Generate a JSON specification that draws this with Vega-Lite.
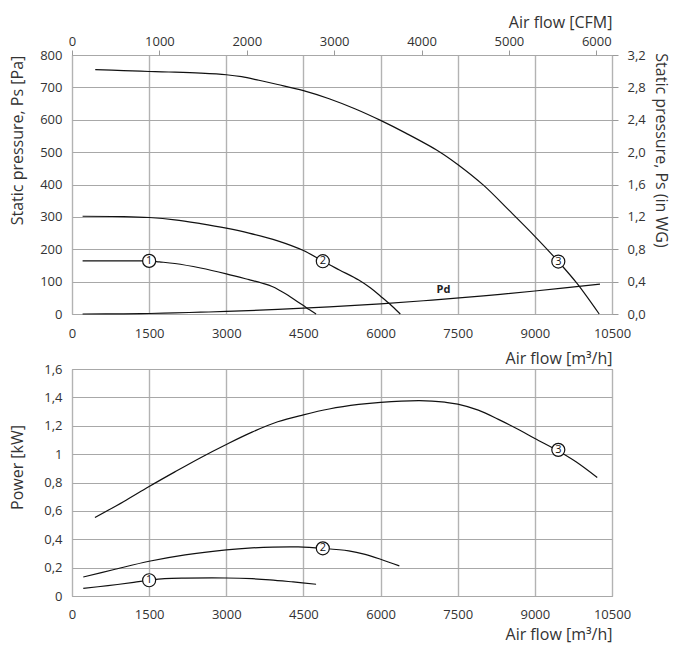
{
  "$schema": "https://vega.github.io/schema/vega-lite/v6.json",
  "background": "white",
  "padding": {"left": 8, "top": 13, "right": 0, "bottom": 0},
  "bounds": "flush",
  "spacing": 55,
  "config": {
    "font": "Open Sans",
    "view": {"stroke": "#9a9a9a", "strokeWidth": 1},
    "axis": {
      "labelFont": "Open Sans", "labelFontSize": 13, "labelColor": "#333333",
      "labelOverlap": false, "labelFlush": false,
      "titleFont": "Open Sans", "titleFontSize": 16, "titleFontWeight": "normal", "titleColor": "#333333",
      "gridColor": "#a8a8a8", "gridOpacity": 1, "gridWidth": 1,
      "domain": false, "tickColor": "#9a9a9a"
    }
  },
  "datasets": {
    "pressure": [
      {"curve": "1", "flow": 206, "pa": 164}, {"curve": "1", "flow": 800, "pa": 164}, {"curve": "1", "flow": 1300, "pa": 164}, {"curve": "1", "flow": 1500, "pa": 164}, {"curve": "1", "flow": 1700, "pa": 161}, {"curve": "1", "flow": 2000, "pa": 156}, {"curve": "1", "flow": 2500, "pa": 142}, {"curve": "1", "flow": 3000, "pa": 124}, {"curve": "1", "flow": 3441, "pa": 106}, {"curve": "1", "flow": 3700, "pa": 95}, {"curve": "1", "flow": 3892, "pa": 85}, {"curve": "1", "flow": 4050, "pa": 72}, {"curve": "1", "flow": 4200, "pa": 58}, {"curve": "1", "flow": 4350, "pa": 42}, {"curve": "1", "flow": 4500, "pa": 26}, {"curve": "1", "flow": 4620, "pa": 13}, {"curve": "1", "flow": 4746, "pa": 0},
      {"curve": "2", "flow": 206, "pa": 302}, {"curve": "2", "flow": 1000, "pa": 301}, {"curve": "2", "flow": 1500, "pa": 298}, {"curve": "2", "flow": 2000, "pa": 291}, {"curve": "2", "flow": 2500, "pa": 279}, {"curve": "2", "flow": 3000, "pa": 265}, {"curve": "2", "flow": 3441, "pa": 250}, {"curve": "2", "flow": 4000, "pa": 226}, {"curve": "2", "flow": 4500, "pa": 196}, {"curve": "2", "flow": 4877, "pa": 163}, {"curve": "2", "flow": 5200, "pa": 136}, {"curve": "2", "flow": 5575, "pa": 105}, {"curve": "2", "flow": 5800, "pa": 81}, {"curve": "2", "flow": 6000, "pa": 55}, {"curve": "2", "flow": 6200, "pa": 28}, {"curve": "2", "flow": 6384, "pa": 0},
      {"curve": "3", "flow": 452, "pa": 755}, {"curve": "3", "flow": 1000, "pa": 752}, {"curve": "3", "flow": 1500, "pa": 749}, {"curve": "3", "flow": 2000, "pa": 747}, {"curve": "3", "flow": 2500, "pa": 744}, {"curve": "3", "flow": 3000, "pa": 739}, {"curve": "3", "flow": 3300, "pa": 733}, {"curve": "3", "flow": 3634, "pa": 722}, {"curve": "3", "flow": 4000, "pa": 709}, {"curve": "3", "flow": 4500, "pa": 690}, {"curve": "3", "flow": 5000, "pa": 665}, {"curve": "3", "flow": 5500, "pa": 634}, {"curve": "3", "flow": 6000, "pa": 598}, {"curve": "3", "flow": 6500, "pa": 558}, {"curve": "3", "flow": 7127, "pa": 503}, {"curve": "3", "flow": 7500, "pa": 462}, {"curve": "3", "flow": 8000, "pa": 398}, {"curve": "3", "flow": 8500, "pa": 320}, {"curve": "3", "flow": 9000, "pa": 240}, {"curve": "3", "flow": 9456, "pa": 162}, {"curve": "3", "flow": 9812, "pa": 96}, {"curve": "3", "flow": 10251, "pa": 0},
      {"curve": "Pd", "flow": 206, "pa": 0}, {"curve": "Pd", "flow": 1000, "pa": 0.5}, {"curve": "Pd", "flow": 1500, "pa": 1.5}, {"curve": "Pd", "flow": 2000, "pa": 3.5}, {"curve": "Pd", "flow": 2500, "pa": 5.5}, {"curve": "Pd", "flow": 3000, "pa": 8}, {"curve": "Pd", "flow": 4000, "pa": 14}, {"curve": "Pd", "flow": 5000, "pa": 22}, {"curve": "Pd", "flow": 6000, "pa": 31}, {"curve": "Pd", "flow": 7000, "pa": 43}, {"curve": "Pd", "flow": 8000, "pa": 56}, {"curve": "Pd", "flow": 9000, "pa": 71}, {"curve": "Pd", "flow": 10266, "pa": 92}
    ],
    "pressureMarks": [
      {"label": "1", "flow": 1500, "pa": 164},
      {"label": "2", "flow": 4877, "pa": 163},
      {"label": "3", "flow": 9456, "pa": 162}
    ],
    "pdLabel": [
      {"label": "Pd", "flow": 7224, "pa": 73}
    ],
    "secondary": [
      {"cfm": 0, "inwg": 0},
      {"cfm": 6180, "inwg": 3.2}
    ],
    "power": [
      {"curve": "1", "flow": 219, "kw": 0.054}, {"curve": "1", "flow": 700, "kw": 0.073}, {"curve": "1", "flow": 1200, "kw": 0.096}, {"curve": "1", "flow": 1500, "kw": 0.111}, {"curve": "1", "flow": 1800, "kw": 0.122}, {"curve": "1", "flow": 2200, "kw": 0.126}, {"curve": "1", "flow": 3000, "kw": 0.127}, {"curve": "1", "flow": 3500, "kw": 0.122}, {"curve": "1", "flow": 3849, "kw": 0.114}, {"curve": "1", "flow": 4300, "kw": 0.099}, {"curve": "1", "flow": 4746, "kw": 0.083},
      {"curve": "2", "flow": 219, "kw": 0.134}, {"curve": "2", "flow": 800, "kw": 0.185}, {"curve": "2", "flow": 1500, "kw": 0.245}, {"curve": "2", "flow": 2200, "kw": 0.29}, {"curve": "2", "flow": 3000, "kw": 0.325}, {"curve": "2", "flow": 3500, "kw": 0.339}, {"curve": "2", "flow": 3900, "kw": 0.345}, {"curve": "2", "flow": 4400, "kw": 0.346}, {"curve": "2", "flow": 4877, "kw": 0.336}, {"curve": "2", "flow": 5381, "kw": 0.318}, {"curve": "2", "flow": 5700, "kw": 0.293}, {"curve": "2", "flow": 6000, "kw": 0.259}, {"curve": "2", "flow": 6365, "kw": 0.212},
      {"curve": "3", "flow": 446, "kw": 0.553}, {"curve": "3", "flow": 1000, "kw": 0.665}, {"curve": "3", "flow": 1500, "kw": 0.772}, {"curve": "3", "flow": 2000, "kw": 0.875}, {"curve": "3", "flow": 2500, "kw": 0.975}, {"curve": "3", "flow": 3000, "kw": 1.068}, {"curve": "3", "flow": 3500, "kw": 1.155}, {"curve": "3", "flow": 4000, "kw": 1.228}, {"curve": "3", "flow": 4500, "kw": 1.277}, {"curve": "3", "flow": 5000, "kw": 1.318}, {"curve": "3", "flow": 5575, "kw": 1.35}, {"curve": "3", "flow": 6000, "kw": 1.365}, {"curve": "3", "flow": 6739, "kw": 1.377}, {"curve": "3", "flow": 7000, "kw": 1.374}, {"curve": "3", "flow": 7250, "kw": 1.366}, {"curve": "3", "flow": 7500, "kw": 1.352}, {"curve": "3", "flow": 7900, "kw": 1.31}, {"curve": "3", "flow": 8291, "kw": 1.245}, {"curve": "3", "flow": 8700, "kw": 1.17}, {"curve": "3", "flow": 9000, "kw": 1.11}, {"curve": "3", "flow": 9456, "kw": 1.022}, {"curve": "3", "flow": 9800, "kw": 0.946}, {"curve": "3", "flow": 10213, "kw": 0.835}
    ],
    "powerMarks": [
      {"label": "1", "flow": 1500, "kw": 0.111},
      {"label": "2", "flow": 4877, "kw": 0.336},
      {"label": "3", "flow": 9456, "kw": 1.03}
    ]
  },
  "vconcat": [
    {
      "width": 540,
      "height": 259,
      "layer": [
        {
          "encoding": {
            "x": {"field": "flow", "type": "quantitative", "scale": {"domain": [0, 10500], "nice": false, "zero": false},
              "axis": {"values": [0, 1500, 3000, 4500, 6000, 7500, 9000, 10500], "format": "d", "ticks": false, "tickSize": 0, "labelPadding": 13, "gridColor": "#b3b3b3", "gridWidth": 1.4,
                "title": "Air flow [m³/h]", "titleAnchor": "end", "titlePadding": 10}},
            "y": {"field": "pa", "type": "quantitative", "scale": {"domain": [0, 800], "nice": false},
              "axis": {"values": [0, 100, 200, 300, 400, 500, 600, 700, 800], "format": "d", "ticks": false, "tickSize": 0, "labelPadding": 10,
                "title": "Static pressure, Ps [Pa]", "titleX": -47, "titleY": 85}}
          },
          "layer": [
            {
              "data": {"name": "pressure"},
              "mark": {"type": "line", "color": "#111111", "strokeWidth": 1.2, "interpolate": "catmull-rom"},
              "encoding": {"detail": {"field": "curve"}}
            },
            {
              "data": {"name": "pressureMarks"},
              "mark": {"type": "point", "shape": "circle", "filled": true, "fill": "white", "stroke": "#111111", "strokeWidth": 1.2, "size": 170, "opacity": 1},
              "encoding": {}
            },
            {
              "data": {"name": "pressureMarks"},
              "mark": {"type": "text", "fontSize": 11, "color": "#111111", "baseline": "middle", "align": "center"},
              "encoding": {"text": {"field": "label"}}
            },
            {
              "data": {"name": "pdLabel"},
              "mark": {"type": "text", "fontSize": 11, "fontWeight": "bold", "color": "#222222", "baseline": "middle", "align": "center"},
              "encoding": {"text": {"field": "label"}}
            }
          ]
        },
        {
          "data": {"name": "secondary"},
          "mark": {"type": "point", "opacity": 0},
          "encoding": {
            "x": {"field": "cfm", "type": "quantitative", "scale": {"domain": [0, 6180], "nice": false, "zero": false},
              "axis": {"orient": "top", "values": [0, 1000, 2000, 3000, 4000, 5000, 6000], "format": "d", "grid": false, "ticks": true, "tickSize": 5, "labelPadding": 2,
                "title": "Air flow [CFM]", "titleAnchor": "end", "titlePadding": 5}},
            "y": {"field": "inwg", "type": "quantitative", "scale": {"domain": [0, 3.2], "nice": false},
              "axis": {"orient": "right", "values": [0, 0.4, 0.8, 1.2, 1.6, 2.0, 2.4, 2.8, 3.2], "grid": false, "ticks": true, "tickSize": 6, "labelPadding": 9,
                "labelExpr": "replace(format(datum.value, '.1f'), '.', ',')",
                "title": "Static pressure, Ps (in WG)", "titlePadding": 7, "titleY": 95}}
          }
        }
      ],
      "resolve": {"scale": {"x": "independent", "y": "independent"}}
    },
    {
      "width": 540,
      "height": 227,
      "encoding": {
        "x": {"field": "flow", "type": "quantitative", "scale": {"domain": [0, 10500], "nice": false, "zero": false},
          "axis": {"values": [0, 1500, 3000, 4500, 6000, 7500, 9000, 10500], "format": "d", "ticks": false, "tickSize": 0, "labelPadding": 12, "gridColor": "#b3b3b3", "gridWidth": 1.4,
            "title": "Air flow [m³/h]", "titleAnchor": "end", "titlePadding": 5}},
        "y": {"field": "kw", "type": "quantitative", "scale": {"domain": [0, 1.6], "nice": false},
          "axis": {"values": [0, 0.2, 0.4, 0.6, 0.8, 1, 1.2, 1.4, 1.6], "ticks": false, "tickSize": 0, "labelPadding": 10,
            "labelExpr": "replace(format(datum.value, '.1~f'), '.', ',')",
            "title": "Power [kW]", "titleX": -47, "titleY": 98}}
      },
      "layer": [
        {
          "data": {"name": "power"},
          "mark": {"type": "line", "color": "#111111", "strokeWidth": 1.2, "interpolate": "catmull-rom"},
          "encoding": {"detail": {"field": "curve"}}
        },
        {
          "data": {"name": "powerMarks"},
          "mark": {"type": "point", "shape": "circle", "filled": true, "fill": "white", "stroke": "#111111", "strokeWidth": 1.2, "size": 170, "opacity": 1},
          "encoding": {}
        },
        {
          "data": {"name": "powerMarks"},
          "mark": {"type": "text", "fontSize": 11, "color": "#111111", "baseline": "middle", "align": "center"},
          "encoding": {"text": {"field": "label"}}
        }
      ]
    }
  ]
}
